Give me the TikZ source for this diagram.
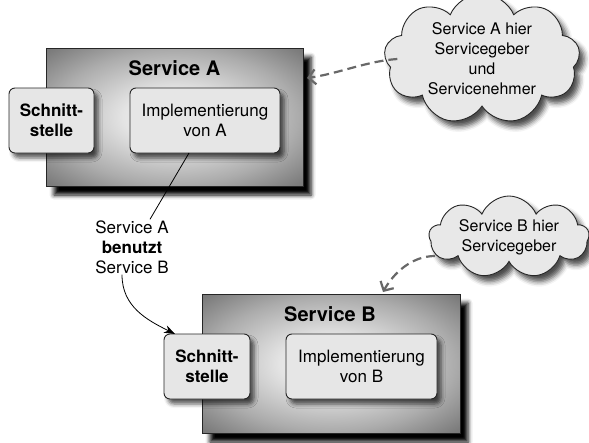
\documentclass[tikz,border=0pt]{standalone}
\usepackage{fontspec}
\setmainfont{TeX Gyre Heros}
\usetikzlibrary{shapes.symbols,shadows.blur,arrows.meta}

\definecolor{shadelight}{HTML}{F4F4F4}
\definecolor{shadesoft}{HTML}{E4E4E4}
\definecolor{shademid}{HTML}{ACACAC}
\definecolor{shadedeep}{HTML}{7C7C7C}
\definecolor{shadedark}{HTML}{626262}
\definecolor{shaderim}{HTML}{555555}
\definecolor{shadecorner}{HTML}{3A3A3A}
\definecolor{boxfill}{HTML}{E6E6E6}
\definecolor{cloudfill}{HTML}{E8E8E8}
\definecolor{edge}{HTML}{262626}
\definecolor{dashgray}{HTML}{686868}

% light centre, dark rim for the service containers
\pgfdeclareradialshading{svcshade}{\pgfpoint{0bp}{0bp}}{%
  color(0bp)=(shadelight); color(10bp)=(shadesoft); color(24bp)=(shademid);
  color(34bp)=(shadedeep); color(42bp)=(shadedark); color(50bp)=(shaderim);
  color(72bp)=(shadecorner)}

\tikzset{
  svcbox/.style={rectangle, shading=svcshade, draw=edge, line width=0.9pt,
    inner sep=0pt, outer sep=0pt,
    blur shadow={shadow xshift=8pt, shadow yshift=-9pt,
      shadow blur radius=4.5pt, shadow opacity=100}},
  svctitle/.style={font=\fontsize{20}{24}\selectfont\bfseries},
  partbox/.style={rectangle, rounded corners=6pt, fill=boxfill, draw=edge,
    line width=0.9pt, inner sep=0pt, outer sep=0pt, align=center,
    minimum height=65pt, font=\fontsize{17}{20}\selectfont,
    blur shadow={shadow xshift=4pt, shadow yshift=-5pt,
      shadow blur radius=4pt, shadow opacity=65}},
  ifbox/.style={partbox, font=\fontsize{17}{20}\selectfont\bfseries},
  note/.style={cloud, cloud puffs=9, cloud puff arc=135, cloud ignores aspect,
    fill=cloudfill, draw=edge, line width=0.9pt, align=center,
    inner sep=0pt, outer sep=0pt, font=\fontsize{16}{20}\selectfont,
    blur shadow={shadow xshift=5pt, shadow yshift=-6pt,
      shadow blur radius=5pt, shadow opacity=70}},
  hint/.style={dashgray, line width=2.2pt, dash pattern=on 9pt off 5pt,
    -{Straight Barb[length=7pt, width=15pt]}},
  uses/.style={black, line width=0.8pt},
}

\begin{document}
\begin{tikzpicture}[x=1pt, y=-1pt]
  \useasboundingbox (0,0) rectangle (589,442);

  % Service A
  \node[svcbox, minimum width=257pt, minimum height=138pt] (svcA) at (174.5,117) {};
  \node[svctitle] (titleA) at (174.5,68) {Service A};
  \node[ifbox, minimum width=85pt] (ifA) at (51.5,120.5) {Schnitt-\\stelle};
  \node[partbox, minimum width=150pt] (implA) at (205,120.5) {Implementierung\\von A};

  % Service B
  \node[svcbox, minimum width=258pt, minimum height=139pt] (svcB) at (331,363.5) {};
  \node[svctitle] (titleB) at (330,314) {Service B};
  \node[ifbox, minimum width=86pt] (ifB) at (207,366.5) {Schnitt-\\stelle};
  \node[partbox, minimum width=151pt] (implB) at (361.5,366.5) {Implementierung\\von B};

  % usage relation between the services
  \node[align=center, font=\fontsize{17}{20}\selectfont, inner sep=1pt] (use) at (132,247)
    {Service A\\\textbf{benutzt}\\Service B};
  \draw[uses] ([xshift=-16pt]implA.south) -- ([xshift=18pt]use.north);
  \draw[uses, -{Stealth[length=11pt, width=8pt]}]
    ([xshift=-10pt]use.south) .. controls +(0,32) and +(-28,-14) ..
    ([xshift=11pt]ifB.north west);

  % remarks
  \node[note, minimum width=196pt, minimum height=104pt] (noteA) at (482,59)
    {Service A hier\\Servicegeber\\und\\Servicenehmer};
  \node[note, minimum width=160pt, minimum height=82pt] (noteB) at (509,237)
    {Service B hier\\Servicegeber};

  \coordinate (tipA) at (307,78);
  \coordinate (tipB) at (383,292);
  \draw[hint] ([xshift=12pt]noteA.west) .. controls +(-30,2) and +(30,-4) .. (tipA);
  \draw[hint] ([xshift=6pt,yshift=-19pt]noteB.west) .. controls +(-24,0) and +(10,-18) .. (tipB);
\end{tikzpicture}
\end{document}
